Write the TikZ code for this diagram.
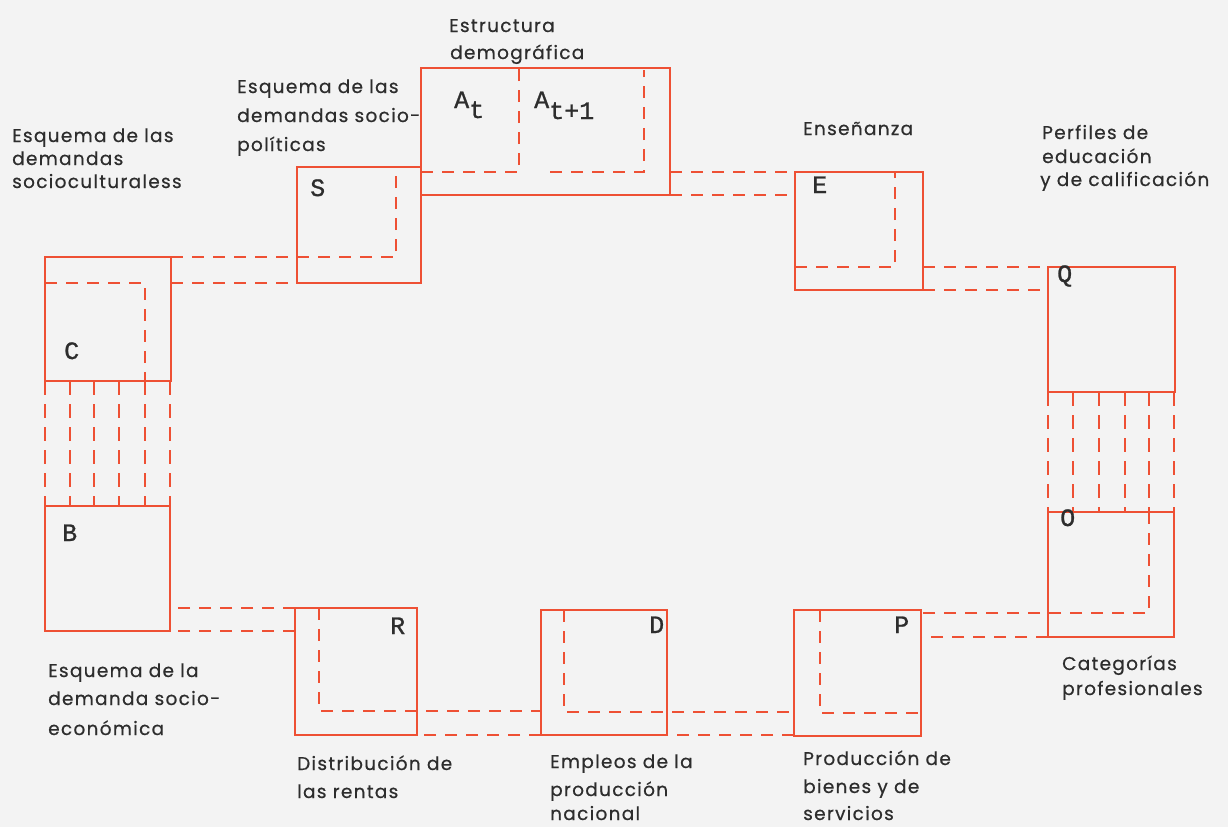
\documentclass[tikz,border=0pt]{standalone}
\usepackage{fontspec}
\newfontfamily\lblfont[LetterSpace=7,FakeBold=0.6]{Poppins}
\newfontfamily\typew[FakeBold=1]{Liberation Mono}
\definecolor{lred}{RGB}{238,80,52}
\definecolor{txt}{RGB}{45,45,45}
\definecolor{bg}{RGB}{243,243,243}
\begin{document}
\begin{tikzpicture}[x=1pt,y=-1pt,
  boxline/.style={draw=lred,line width=1.8pt},
  dline/.style={draw=lred,line width=2.2pt,dash pattern=on 12pt off 9pt},
  vline/.style={draw=lred,line width=2.2pt,dash pattern=on 14pt off 9pt},
  lbl/.style={anchor=base west,inner sep=0pt,text=txt,font=\lblfont\fontsize{18.5}{22}\selectfont},
  letter/.style={anchor=base west,inner sep=0pt,text=txt,font=\typew\fontsize{25}{28}\selectfont}]
\fill[bg] (0,0) rectangle (1228,827);
\useasboundingbox (0,0) rectangle (1228,827);
% box corners
\coordinate (Cnw) at (45,257);  \coordinate (Cse) at (171,381);
\coordinate (Bnw) at (45,506);  \coordinate (Bse) at (170,631);
\coordinate (Snw) at (297,167); \coordinate (Sse) at (421,283);
\coordinate (Anw) at (421,68);  \coordinate (Ase) at (670,195);
\coordinate (Enw) at (795,172); \coordinate (Ese) at (923,290);
\coordinate (Qnw) at (1048,267);\coordinate (Qse) at (1175,392);
\coordinate (Onw) at (1048,512);\coordinate (Ose) at (1174,637);
\coordinate (Pnw) at (794,610); \coordinate (Pse) at (921,736);
\coordinate (Dnw) at (541,610); \coordinate (Dse) at (667,735);
\coordinate (Rnw) at (295,608); \coordinate (Rse) at (417,735);
\foreach \b in {C,B,S,A,E,Q,O,P,D,R} \draw[boxline] (\b nw) rectangle (\b se);
% lattices
\foreach \x in {45,70,94,119,145,170} \draw[vline] (\x,381) -- (\x,506);
\foreach \x in {1048,1073,1099,1125,1149,1174} \draw[vline] (\x,392) -- (\x,512);
% inner dashed and connectors
\draw[dline] (45,283) -- (145,283) -- (145,381);
\draw[dline] (171,257) -- (396,257) -- (396,167);
\draw[dline] (171,283) -- (297,283);
\draw[dline] (421,172) -- (519,172) -- (519,68);
\draw[dline] (550,172) -- (644,172) -- (644,70);
\draw[dline] (670,172) -- (795,172);
\draw[dline] (670,195) -- (795,195);
\draw[dline] (795,267) -- (895,267) -- (895,172);
\draw[dline] (923,267) -- (1048,267);
\draw[dline] (923,290) -- (1048,290);
\draw[dline] (1149,512) -- (1149,613) -- (921,613);
\draw[dline] (1048,637) -- (921,637);
\draw[dline] (820,610) -- (820,713) -- (921,713);
\draw[dline] (794,735) -- (667,735);
\draw[dline] (564,610) -- (564,712) -- (794,712);
\draw[dline] (541,735) -- (417,735);
\draw[dline] (319,608) -- (319,711) -- (541,711);
\draw[dline] (295,608) -- (170,608);
\draw[dline] (295,631) -- (170,631);
% letters
\node[letter] (lS) at (310,196) {S};
\node[letter] (lAt) at (454,108) {A\raisebox{-10pt}{t}};
\node[letter] (lAt1) at (534,108) {A\raisebox{-11pt}{t+1}};
\node[letter] (lE) at (812,193) {E};
\node[letter] (lQ) at (1057,282) {Q};
\node[letter] (lO) at (1060,526) {O};
\node[letter] (lP) at (894,633) {P};
\node[letter] (lD) at (649,633) {D};
\node[letter] (lR) at (390,634) {R};
\node[letter] (lB) at (62,541) {B};
\node[letter] (lC) at (64,359) {C};
% labels
\node[lbl] (t1a) at (449,32) {Estructura};
\node[lbl] (t1b) at (450,59) {demográfica};
\node[lbl] (t2a) at (237,93) {Esquema de las};
\node[lbl] (t2b) at (237,122) {demandas socio-};
\node[lbl] (t2c) at (237,151) {políticas};
\node[lbl] (t3a) at (12,142) {Esquema de las};
\node[lbl] (t3b) at (12,165) {demandas};
\node[lbl] (t3c) at (12,188) {socioculturaless};
\node[lbl] (t4) at (803,135) {Enseñanza};
\node[lbl] (t5a) at (1042,139) {Perfiles de};
\node[lbl] (t5b) at (1042,163) {educación};
\node[lbl] (t5c) at (1040,186) {y de calificación};
\node[lbl] (t6a) at (1062,670) {Categorías};
\node[lbl] (t6b) at (1062,695) {profesionales};
\node[lbl] (t7a) at (48,677) {Esquema de la};
\node[lbl] (t7b) at (48,705) {demanda socio-};
\node[lbl] (t7c) at (48,735) {económica};
\node[lbl] (t8a) at (297,770) {Distribución de};
\node[lbl] (t8b) at (297,798) {las rentas};
\node[lbl] (t9a) at (550,768) {Empleos de la};
\node[lbl] (t9b) at (550,796) {producción};
\node[lbl] (t9c) at (550,820) {nacional};
\node[lbl] (t10a) at (803,765) {Producción de};
\node[lbl] (t10b) at (803,793) {bienes y de};
\node[lbl] (t10c) at (803,820) {servicios};
\end{tikzpicture}
\end{document}
